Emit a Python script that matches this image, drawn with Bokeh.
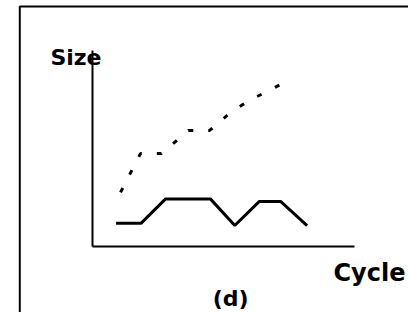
from bokeh.plotting import figure
from bokeh.models import Label, BoxAnnotation, Range1d, FixedTicker
from bokeh.embed import file_html
from bokeh.resources import INLINE

# Schematic data (arbitrary units: cycle 0..100, size 0..100)
solid_cycle = [9.0, 18.6, 27.9, 45.0, 54.3, 63.7, 71.8, 81.9]
solid_size = [11.9, 11.9, 24.3, 24.3, 10.7, 23.0, 23.0, 10.7]

dotted_cycle = [10.7, 18.3, 26.3, 36.6, 44.7, 52.7, 59.2, 71.8]
dotted_size = [27.6, 47.4, 47.4, 59.2, 59.2, 68.4, 74.0, 82.7]

x_label = "Cycle"
y_label = "Size"
panel_label = "(d)"

p = figure(width=408, height=312, output_backend="svg", toolbar_location=None,
           x_range=Range1d(-35.11, 120.61), y_range=Range1d(-33.67, 125.51),
           min_border=0, min_border_left=0, min_border_right=0,
           min_border_top=0, min_border_bottom=0)
p.background_fill_color = "white"
p.border_fill_color = "white"
p.outline_line_color = None
p.grid.visible = False

for ax in (p.xaxis[0], p.yaxis[0]):
    ax.ticker = FixedTicker(ticks=[])
    ax.major_tick_in = 0
    ax.major_tick_out = 0
    ax.minor_tick_in = 0
    ax.minor_tick_out = 0
    ax.major_label_text_font_size = "0px"
    ax.major_label_standoff = 0
    ax.axis_label = None
    ax.axis_line_color = "black"
    ax.axis_line_width = 2
    ax.bounds = (0, 100)
p.xaxis[0].fixed_location = 0
p.yaxis[0].fixed_location = 0

# outer frame (only left/top edges fall inside the canvas)
p.add_layout(BoxAnnotation(left=-27.75, top=122.45, right=400, bottom=-300,
                           fill_alpha=0, line_color="black", line_alpha=1.0,
                           line_width=2))

p.line(solid_cycle, solid_size, line_color="black", line_width=3)
p.line(dotted_cycle, dotted_size, line_color="black", line_width=3,
       line_dash="5 15")

font = "DejaVu Sans"
p.add_layout(Label(x=-6.3, y=96.4, text=y_label, text_align="center",
                   text_baseline="alphabetic", text_font=font,
                   text_font_style="bold", text_font_size="22px",
                   text_color="black"))
p.add_layout(Label(x=105.7, y=-13.3, text=x_label, text_align="center",
                   text_baseline="alphabetic", text_font=font,
                   text_font_style="bold", text_font_size="24px",
                   text_color="black"))
p.add_layout(Label(x=52.7, y=-26.5, text=panel_label, text_align="center",
                   text_baseline="alphabetic", text_font=font,
                   text_font_style="bold", text_font_size="22px",
                   text_color="black"))

open("out.html", "w").write(file_html(p, INLINE))
